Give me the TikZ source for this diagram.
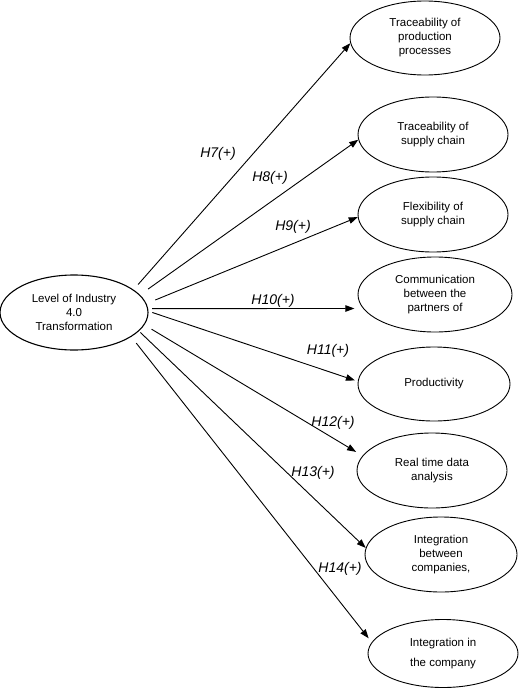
\documentclass[tikz,border=0pt]{standalone}
\usepackage{fontspec}
\setmainfont{Liberation Sans}
\usetikzlibrary{shapes.geometric,arrows.meta}
\tikzset{
  oval/.style={draw, ellipse, line width=0.9pt, inner sep=0pt, align=center,
    font=\fontsize{11.5}{14}\selectfont},
  arr/.style={line width=0.9pt, -{Triangle[length=9pt,width=6.5pt]}},
  hyp/.style={font=\fontsize{14}{16}\selectfont\itshape, inner sep=0pt}
}
\begin{document}
\begin{tikzpicture}[x=1pt,y=-1pt]
\useasboundingbox (0,0) rectangle (520,688);
\node[oval, line width=1.1pt, minimum width=148pt, minimum height=75pt] (src) at (74,312.5) {Level of Industry\\4.0\\Transformation};
\node[oval, minimum width=150pt, minimum height=74pt] (t1) at (425,38) {Traceability of\\production\\processes};
\node[oval, minimum width=150pt, minimum height=75pt] (t2) at (433,134.5) {Traceability of\\supply chain};
\node[oval, minimum width=150pt, minimum height=75pt] (t3) at (433,214.5) {Flexibility of\\supply chain};
\node[oval, minimum width=154pt, minimum height=75pt] (t4) at (435,294.5) {Communication\\between the\\partners of};
\node[oval, minimum width=152pt, minimum height=74pt] (t5) at (434,384) {Productivity};
\node[oval, minimum width=150pt, minimum height=75pt] (t6) at (432,470.5) {Real time data\\analysis};
\node[oval, minimum width=152pt, minimum height=75pt] (t7) at (441,554.5) {Integration\\between\\companies,};
\node[oval, minimum width=150pt, minimum height=68pt, font=\fontsize{11.5}{20}\selectfont] (t8) at (443,653.5) {Integration in\\the company};

\draw[arr, shorten <=6.8pt] (src.21.9) -- (t1.184.5);
\draw[arr, shorten <=9.9pt] (src.15.6) -- (t2.184.3);
\draw[arr, shorten <=9.5pt] (src.7.6) -- (t3.182.7);
\draw[arr, shorten <=4pt, shorten >=8.6pt] (src.3.1) -- (t4.191);
\draw[arr, shorten <=4pt, shorten >=3pt] (src.1.8) -- (t5.178.5);
\draw[arr, shorten <=8.2pt, shorten >=7.5pt] (src.-10.4) -- (t6.168.6);
\draw[arr, shorten <=1.9pt] (src.-16.2) -- (t7.175);
\draw[arr, shorten <=8pt, shorten >=5pt] (src.-23.9) -- (t8.171.4);

\node[hyp] (h7) at (218,154) {H7(+)};
\node[hyp] (h8) at (270,178) {H8(+)};
\node[hyp] (h9) at (293,227) {H9(+)};
\node[hyp] (h10) at (273,301) {H10(+)};
\node[hyp] (h11) at (328,351) {H11(+)};
\node[hyp] (h12) at (333,423) {H12(+)};
\node[hyp] (h13) at (313,473) {H13(+)};
\node[hyp] (h14) at (340,569) {H14(+)};
\end{tikzpicture}
\end{document}
